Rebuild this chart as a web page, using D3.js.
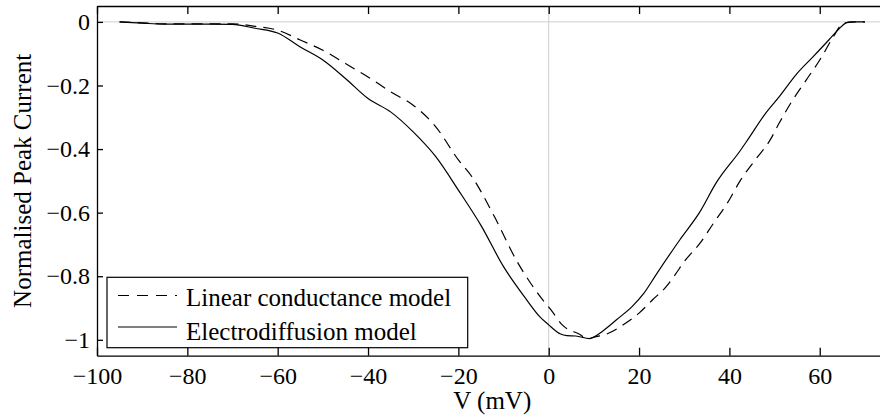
<!DOCTYPE html>
<meta charset="utf-8">
<title>Normalised Peak Current</title>
<style>
  html, body { margin: 0; padding: 0; background: #fff; }
  svg { display: block; }
  svg text { font-family: "Liberation Serif", "DejaVu Serif", serif; fill: #000; }
  .line { fill: none; stroke: #000; stroke-width: 1.2px; }
  .zero { stroke: #cfcfcf; stroke-width: 1px; }
</style>
<body>
<script src="https://d3js.org/d3.v7.min.js"></script>
<script>

// data
var vElectro = [-95, -90, -85, -80, -75, -70, -65, -60, -55, -50, -45, -40, -35, -30, -25, -20, -15, -10, -5, -2,
                0, 2.5, 4, 6, 9, 12, 15, 18.5, 21, 24, 29, 33.5, 37, 42.5, 44, 48, 51, 55, 58.5, 62, 64, 66, 68, 70];
var iElectro = [0, -0.004, -0.007, -0.007, -0.007, -0.008, -0.02, -0.035, -0.079, -0.12, -0.178, -0.241, -0.283, -0.346, -0.424, -0.529, -0.64, -0.77, -0.872, -0.927,
                -0.953, -0.981, -0.987, -0.988, -0.996, -0.972, -0.937, -0.895, -0.855, -0.79, -0.686, -0.597, -0.508, -0.403, -0.372, -0.288, -0.236, -0.162, -0.11, -0.057, -0.026, -0.002, 0, 0];

var vLinear = [-95, -90, -85, -80, -75, -70, -65, -60, -55, -50, -45, -40, -35, -30, -25, -20, -17, -12, -7, -4, -1,
               0.5, 3, 7, 8.5, 10.5, 13, 17, 20, 23, 26, 28, 30, 33.5, 36.5, 39.5, 42.5, 46, 49, 51, 54, 57, 60, 63, 65, 67, 70];
var iLinear = [0, -0.003, -0.006, -0.006, -0.006, -0.006, -0.014, -0.026, -0.057, -0.089, -0.131, -0.173, -0.22, -0.262, -0.33, -0.434, -0.487, -0.613, -0.754, -0.822, -0.88,
               -0.906, -0.953, -0.984, -0.997, -0.99, -0.981, -0.948, -0.916, -0.874, -0.833, -0.795, -0.754, -0.696, -0.633, -0.571, -0.497, -0.429, -0.372, -0.319, -0.246, -0.183, -0.12, -0.047, -0.007, 0, 0];

var xTicks = [-100, -80, -60, -40, -20, 0, 20, 40, 60];
var yTicks = [0, -0.2, -0.4, -0.6, -0.8, -1];
var legendLabels = ["Linear conductance model", "Electrodiffusion model"];

// layout (plot box runs past the right edge, as in the original)
var W = 880, H = 416;
var plotL = 97, plotR = 887.5, plotT = 6, plotB = 355.7;

var x = d3.scaleLinear().domain([-100, 75]).range([plotL, plotR]);
var y = d3.scaleLinear().domain([-1.05, 0.05]).range([plotB, plotT]);

var svg = d3.select("body").append("svg")
    .attr("width", W)
    .attr("height", H);

// zero lines
svg.append("line").attr("class", "zero")
    .attr("x1", plotL).attr("x2", plotR)
    .attr("y1", y(0)).attr("y2", y(0));
svg.append("line").attr("class", "zero")
    .attr("x1", x(0)).attr("x2", x(0))
    .attr("y1", plotT).attr("y2", plotB);

// curves
var line = d3.line()
    .curve(d3.curveMonotoneX)
    .x(function(d) { return x(d[0]); })
    .y(function(d) { return y(d[1]); });

svg.append("path")
    .datum(d3.zip(vLinear, iLinear))
    .attr("class", "line")
    .attr("stroke-dasharray", "11,7")
    .attr("d", line);

svg.append("path")
    .datum(d3.zip(vElectro, iElectro))
    .attr("class", "line")
    .attr("d", line);

var fmt = function(d) { return d === 0 ? "0" : d3.format("~g")(d); };

// bottom axis
var gx = svg.append("g")
    .attr("transform", "translate(0," + plotB + ")")
    .call(d3.axisBottom(x).tickValues(xTicks).tickFormat(fmt).tickSizeInner(-8).tickSizeOuter(0));
gx.attr("font-family", null).attr("font-size", 24);
gx.selectAll("text").attr("y", 28).attr("dy", 0);

// top axis (ticks only)
svg.append("g")
    .attr("transform", "translate(0," + plotT + ")")
    .call(d3.axisTop(x).tickValues(xTicks).tickFormat("").tickSizeInner(-8).tickSizeOuter(0));

// left axis
var gy = svg.append("g")
    .attr("transform", "translate(" + plotL + ",0)")
    .call(d3.axisLeft(y).tickValues(yTicks).tickFormat(fmt).tickSizeInner(-6).tickSizeOuter(0).tickPadding(7));
gy.attr("font-family", null).attr("font-size", 24);
gy.selectAll("text").attr("x", -7);

svg.selectAll(".domain, .tick line").attr("stroke", "#000").attr("stroke-width", 1.3);

// axis labels
svg.append("text")
    .attr("x", (plotL + plotR) / 2)
    .attr("y", 409)
    .attr("text-anchor", "middle")
    .attr("font-size", 25)
    .text("V (mV)");

svg.append("text")
    .attr("transform", "translate(30.7," + (plotT + plotB) / 2 + ") rotate(-90)")
    .attr("text-anchor", "middle")
    .attr("font-size", 25)
    .text("Normalised Peak Current");

// legend
var lg = svg.append("g");
lg.append("rect")
    .attr("x", 107).attr("y", 277.3)
    .attr("width", 360.7).attr("height", 70.4)
    .attr("fill", "#fff").attr("stroke", "#000").attr("stroke-width", 1.2);

var rows = [{dash: "11,8", ly: 295.5, ty: 305.5}, {dash: null, ly: 327, ty: 339.5}];
rows.forEach(function(r, i) {
  lg.append("line")
      .attr("x1", 118).attr("x2", 177)
      .attr("y1", r.ly).attr("y2", r.ly)
      .attr("stroke", "#000").attr("stroke-width", 1.2)
      .attr("stroke-dasharray", r.dash);
  lg.append("text")
      .attr("x", 186).attr("y", r.ty)
      .attr("font-size", 25)
      .text(legendLabels[i]);
});

</script>
</body>
